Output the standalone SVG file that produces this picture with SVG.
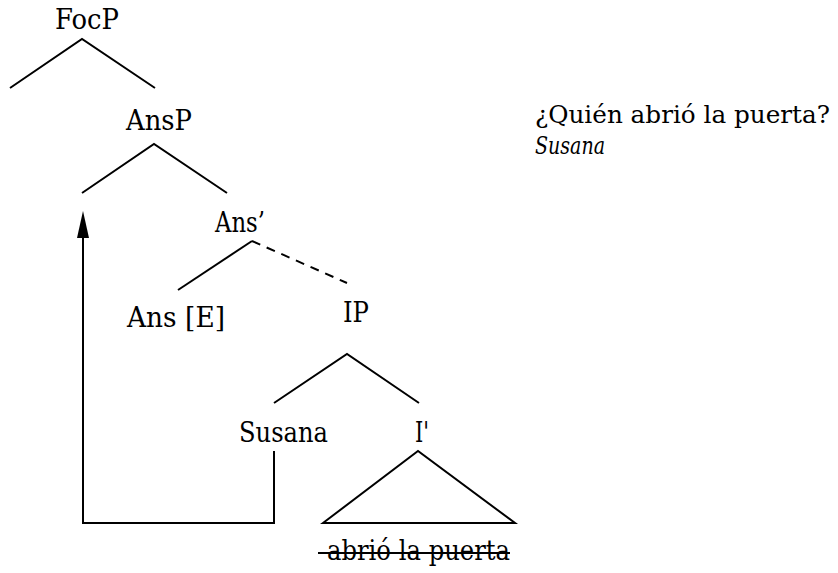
<svg xmlns="http://www.w3.org/2000/svg" width="838" height="573" viewBox="0 0 838 573">
<defs>
<style>
.t{font-family:'DejaVu Serif',serif;font-size:27px;fill:#000;text-anchor:start}
.q{font-size:25px}
.i{font-style:italic;font-size:24px}
.l{stroke:#000;stroke-width:2;fill:none}
.d{stroke-dasharray:9 7}
</style>
</defs>
<rect width="838" height="573" fill="#fff"/>
<g id="FocP"><text class="t" x="55" y="29" textLength="64" lengthAdjust="spacingAndGlyphs">FocP</text></g>
<g id="AnsP"><text class="t" x="126" y="130" textLength="66" lengthAdjust="spacingAndGlyphs">AnsP</text></g>
<g id="AnsBar"><text class="t" x="215" y="232" textLength="50" lengthAdjust="spacingAndGlyphs">Ans’</text></g>
<g id="AnsE"><text class="t" x="127" y="327" textLength="98" lengthAdjust="spacingAndGlyphs">Ans [E]</text></g>
<g id="IP"><text class="t" x="343" y="322" textLength="26" lengthAdjust="spacingAndGlyphs">IP</text></g>
<g id="Susana"><text class="t" x="239" y="442" textLength="89" lengthAdjust="spacingAndGlyphs">Susana</text></g>
<g id="IBar"><text class="t" x="415" y="442" textLength="14" lengthAdjust="spacingAndGlyphs">I'</text></g>
<g id="puerta"><text class="t" x="327" y="560" textLength="183" lengthAdjust="spacingAndGlyphs">abrió la puerta</text><line class="l" x1="318" y1="553" x2="510" y2="553"/></g>
<g id="question"><text class="t q" x="535" y="123" textLength="295" lengthAdjust="spacingAndGlyphs">¿Quién abrió la puerta?</text><text class="t i" x="535" y="154" textLength="70" lengthAdjust="spacingAndGlyphs">Susana</text></g>
<g id="connectors">
<polyline class="l" points="10,88 82,39 155,88"/>
<polyline class="l" points="82,193 154,144 227,193"/>
<line class="l" x1="178" y1="290" x2="252" y2="241"/>
<line class="l d" x1="252" y1="241" x2="347" y2="283"/>
<polyline class="l" points="274,403 347,354 419,403"/>
<polygon class="l" points="323,523 418,451 515,523"/>
<polyline class="l" points="274,451 274,523 83,523 83,236"/>
<path d="M77,238 L83,211 L89,238 Z" fill="#000"/>
</g>
</svg>
